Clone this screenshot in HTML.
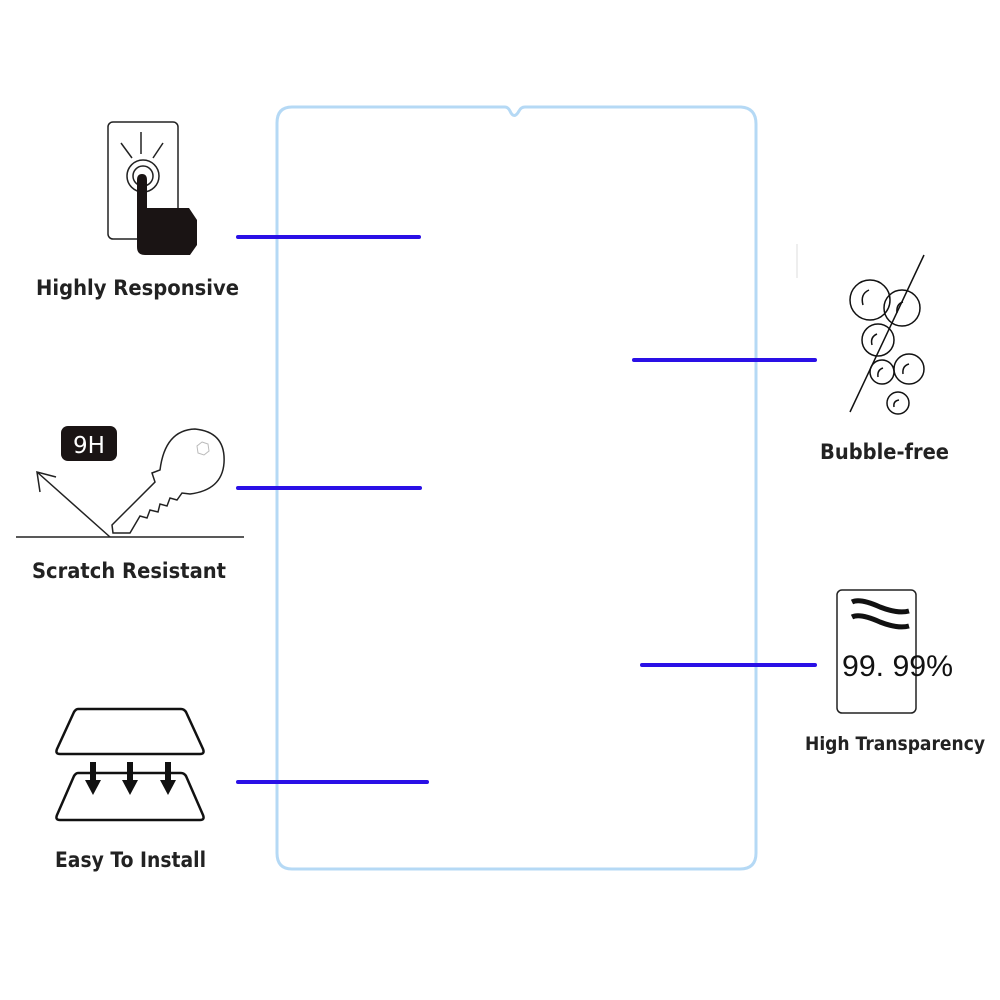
<!DOCTYPE html>
<html><head><meta charset="utf-8"><style>
html,body{margin:0;padding:0;background:#fff;width:1000px;height:1000px;overflow:hidden}
svg{display:block}
text{font-family:"DejaVu Sans","Liberation Sans",sans-serif;font-weight:bold;fill:#222}
</style></head><body>
<svg width="1000" height="1000" viewBox="0 0 1000 1000" xmlns="http://www.w3.org/2000/svg">
<path d="M292,107 H505 Q508,107 510,111 Q514,120 519,111 Q521,107 525,107 H741 Q756,108 756,124 V853 Q756,869 740,869 H292 Q277,869 277,853 V123 Q277,107 292,107 Z" fill="none" stroke="#b5d9f5" stroke-width="3"/>
<g stroke="#2a10e6" stroke-width="4" stroke-linecap="round">
<line x1="238" y1="237" x2="419" y2="237"/>
<line x1="238" y1="488" x2="420" y2="488"/>
<line x1="238" y1="782" x2="427" y2="782"/>
<line x1="634" y1="360" x2="815" y2="360"/>
<line x1="642" y1="665" x2="815" y2="665"/>
</g>
<line x1="797" y1="244" x2="797" y2="278" stroke="#ddd" stroke-width="1"/>

<rect x="108" y="122" width="70" height="117" rx="5" fill="#fff" stroke="#222" stroke-width="1.5"/>
<g stroke="#222" stroke-width="1.5" fill="none">
<line x1="141" y1="132" x2="141" y2="154"/>
<line x1="121" y1="143" x2="132" y2="158"/>
<line x1="163" y1="143" x2="153" y2="158"/>
<circle cx="143" cy="176" r="16"/>
<circle cx="143" cy="176" r="10"/>
</g>
<path d="M137,180 Q137,174 142,174 Q147,174 147,180 V208 H189 L197,220 V245 L190,255 H145 Q137,255 137,247 Z" fill="#1a1414"/>
<text x="36" y="295" font-size="21" textLength="203" lengthAdjust="spacingAndGlyphs">Highly Responsive</text>

<rect x="61" y="426" width="56" height="35" rx="7" fill="#1a1414"/>
<text x="89" y="453" font-size="23" style="font-weight:normal;fill:#fff" text-anchor="middle">9H</text>
<line x1="16" y1="537" x2="244" y2="537" stroke="#222" stroke-width="1.5"/>
<g stroke="#222" stroke-width="1.5" fill="none">
<line x1="110" y1="537" x2="37" y2="472"/>
<polyline points="40,492 37,472 56,477"/>
<path d="M113,533 L112,525 L155,482 L152,473 L160,470 Q165,430 195,429 Q226,432 224,463 Q222,490 190,494 L182,493 L177,500 L170,498 L167,506 L160,504 L158,512 L150,510 L147,518 L140,516 L130,533 Z" fill="#fff"/>
<polygon points="202,442 208,444 209,451 204,455 198,453 197,446" stroke="#bbb" stroke-width="1"/>
</g>
<text x="32" y="578" font-size="21" textLength="194" lengthAdjust="spacingAndGlyphs">Scratch Resistant</text>

<g stroke="#111" stroke-width="2.5" fill="#fff" stroke-linejoin="round">
<path d="M78,709 H181 Q184,709 186,712 L203,749 Q205,754 200,754 H60 Q55,754 57,749 L74,712 Q76,709 78,709 Z"/>
<path d="M78,773 H181 Q184,773 186,776 L203,815 Q205,820 200,820 H60 Q55,820 57,815 L74,776 Q76,773 78,773 Z"/>
</g>
<g fill="#111">
<rect x="90" y="762" width="6" height="20"/><polygon points="85,780 101,780 93,795"/>
<rect x="127" y="762" width="6" height="20"/><polygon points="122,780 138,780 130,795"/>
<rect x="165" y="762" width="6" height="20"/><polygon points="160,780 176,780 168,795"/>
</g>
<text x="55" y="867" font-size="21" textLength="151" lengthAdjust="spacingAndGlyphs">Easy To Install</text>

<g stroke="#111" stroke-width="1.5" fill="none">
<circle cx="870" cy="300" r="20"/>
<circle cx="902" cy="308" r="18"/>
<circle cx="878" cy="340" r="16"/>
<circle cx="882" cy="372" r="12"/>
<circle cx="909" cy="369" r="15"/>
<circle cx="898" cy="403" r="11"/>
<line x1="924" y1="255" x2="850" y2="412"/>
<path d="M863,305 Q860,294 869,290"/>
<path d="M897,313 Q896,304 903,302"/>
<path d="M872,345 Q870,337 877,334"/>
<path d="M878,377 Q877,370 883,368"/>
<path d="M903,374 Q902,366 909,364"/>
<path d="M894,407 Q893,401 899,400"/>
</g>
<text x="820" y="459" font-size="21" textLength="129" lengthAdjust="spacingAndGlyphs">Bubble-free</text>

<rect x="837" y="590" width="79" height="123" rx="5" fill="none" stroke="#222" stroke-width="1.5"/>
<g stroke="#111" stroke-width="5" fill="none">
<path d="M852,602 Q860,598 880,607 Q898,614 909,611"/>
<path d="M852,617 Q860,613 880,622 Q898,629 909,626"/>
</g>
<text x="842" y="676" font-size="30" textLength="111" lengthAdjust="spacingAndGlyphs" style="font-weight:normal;fill:#111;font-family:'Liberation Sans',sans-serif">99. 99%</text>
<text x="805" y="750" font-size="19" textLength="180" lengthAdjust="spacingAndGlyphs">High Transparency</text>
</svg>
</body></html>
